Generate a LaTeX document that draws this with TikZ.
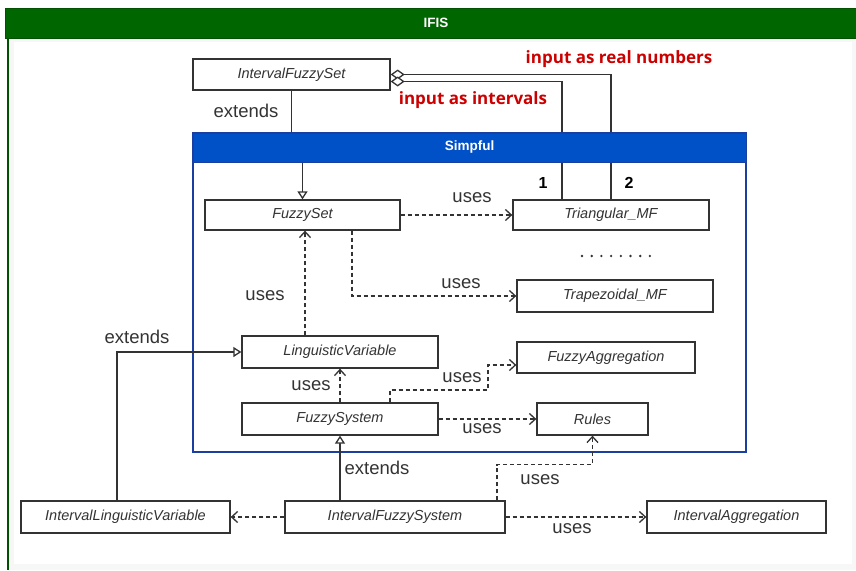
\documentclass[tikz,border=0pt]{standalone}
\usepackage{fontspec}
\setmainfont{Liberation Sans}
\newfontfamily\redfont{Open Sans}
\usetikzlibrary{arrows.meta}
\definecolor{ifisgreen}{HTML}{006600}
\definecolor{ifisgreenb}{HTML}{005200}
\definecolor{simpblue}{HTML}{0050C8}
\definecolor{simpblueb}{HTML}{1A3FA0}
\definecolor{linec}{HTML}{333333}
\definecolor{textc}{HTML}{333333}
\definecolor{redlbl}{HTML}{CC0000}
\begin{document}
\begin{tikzpicture}[x=1pt,y=-1pt,
  cls/.style={draw=linec, line width=1.3pt, fill=white, minimum height=31pt, inner sep=0pt,
    font=\fontsize{14.5}{16}\selectfont\itshape, text=textc},
  lbl/.style={font=\fontsize{18.5}{20}\selectfont, text=textc, inner sep=0pt},
  redl/.style={font=\redfont\bfseries\fontsize{17}{19}\selectfont, text=redlbl, inner sep=0pt},
  numl/.style={font=\bfseries\fontsize{16}{18}\selectfont, text=black, inner sep=0pt},
  conn/.style={draw=linec, line width=1.3pt},
  dep/.style={conn, dash pattern=on 4pt off 3pt, -{Straight Barb[length=6pt,width=11pt]}},
  ext/.style={conn, -{Triangle[open,length=8pt,width=10pt,fill=white]}},
  agg/.style={conn, {Diamond[open,length=14pt,width=10pt,fill=white]}-},
  hdr/.style={text=white, font=\bfseries\fontsize{13.5}{15}\selectfont, inner sep=0pt}
]
\useasboundingbox (0,0) rectangle (856,570);
\fill[white] (0,0) rectangle (856,570);
% outer IFIS container
\fill[white!97!black] (9,38) rectangle (856,570);
\fill[white] (14,42) rectangle (852,564);
\draw[ifisgreenb, line width=1.5pt] (8,38) -- (8,570);
\draw[ifisgreenb, line width=1pt, fill=ifisgreen] (5,8) rectangle (858,38);
\node[hdr] (ifish) at (436,23) {IFIS};

% classes
\node[cls, minimum width=197pt] (ifs) at (291.5,74.5) {IntervalFuzzySet};
\node[cls, minimum width=195pt, minimum height=30pt] (fs) at (302.5,215) {FuzzySet};
\node[cls, minimum width=196pt, minimum height=30pt] (tri) at (611,215) {Triangular\_MF};
\node[cls, minimum width=196pt, minimum height=32pt] (trap) at (615,296) {Trapezoidal\_MF};
\node[cls, minimum width=196pt, minimum height=32pt] (lv) at (340,352) {LinguisticVariable};
\node[cls, minimum width=178pt] (fa) at (606,357.5) {FuzzyAggregation};
\node[cls, minimum width=196pt, minimum height=32pt] (fsys) at (340,419) {FuzzySystem};
\node[cls, minimum width=111pt, minimum height=32pt] (rules) at (592.5,419) {Rules};
\node[cls, minimum width=209pt, minimum height=32pt] (ilv) at (125.5,517) {IntervalLinguisticVariable};
\node[cls, minimum width=220pt, minimum height=32pt] (ifsys) at (395,517) {IntervalFuzzySystem};
\node[cls, minimum width=179pt, minimum height=32pt] (ia) at (736.5,517) {IntervalAggregation};

% connectors passing under the Simpful header
\draw[ext] (ifs.south) -- (291.5,147) -| (fs.north);
\draw[agg] (ifs.east) -| (tri.north);
\draw[agg] ([yshift=-7pt]ifs.east) -| ([xshift=-49pt]tri.north);

% Simpful container
\draw[simpblueb, line width=1.2pt] (193,133) rectangle (746,452);
\node[draw=simpblueb, line width=1pt, fill=simpblue, minimum width=553pt, minimum height=29pt, inner sep=0pt] (simph) at (469.5,147.5) {};
\node[hdr] (simpt) at (469.5,147.5) {Simpful};

% other connectors
\draw[dep] (fs.east) -- (tri.west);
\draw[dep] ([xshift=49.5pt]fs.south) |- (trap.west);
\draw[dep] ([xshift=-35pt]lv.north) -- ([xshift=-35pt]lv.north |- fs.south);
\draw[dep] (fsys.north) -- (lv.south);
\draw[dep] ([xshift=50pt]fsys.north) |- (488,390) |- ([yshift=-7.5pt]fa.west);
\draw[dep] (fsys.east) -- (rules.west);
\draw[ext] ([xshift=-8.5pt]ilv.north) |- (lv.west);
\draw[ext] (fsys.south |- ifsys.north) -- (fsys.south);
\draw[dep] (ifsys.west) -- (ilv.east);
\draw[dep] ([xshift=102pt]ifsys.north) |- ([yshift=-29pt]rules.south) -- (rules.south);
\draw[dep] (ifsys.east) -- (ia.west);

% dots
\foreach \i in {0,...,7} \fill[linec] (582+\i*9.7,256) circle (1.3pt);

% labels
\node[lbl] (lext1) at (246,111) {extends};
\node[redl] (lreal) at (619,59) {input as real numbers};
\node[redl] (lint) at (473,100) {input as intervals};
\node[numl] (n1) at (543,183) {1};
\node[numl] (n2) at (629,183) {2};
\node[lbl] (lu1) at (472,198) {uses};
\node[lbl] (lu2) at (461,284) {uses};
\node[lbl] (lu3) at (265,296) {uses};
\node[lbl] (lext2) at (137,337) {extends};
\node[lbl] (lu4) at (311,386) {uses};
\node[lbl] (lu5) at (462,378) {uses};
\node[lbl] (lu6) at (482,429) {uses};
\node[lbl] (lext3) at (377,468) {extends};
\node[lbl] (lu7) at (540,480) {uses};
\node[lbl] (lu8) at (572,529) {uses};
\end{tikzpicture}
\end{document}
